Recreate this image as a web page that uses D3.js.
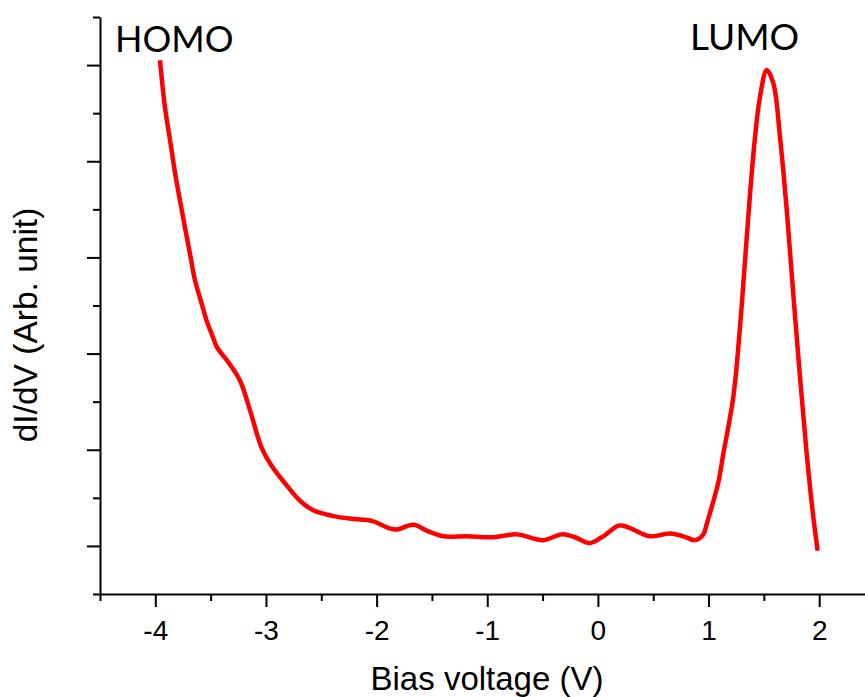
<!DOCTYPE html>
<html>
<head>
<meta charset="utf-8">
<script src="https://cdn.jsdelivr.net/npm/d3@7"></script>
<style>
  body { margin: 0; background: #fff; }
  svg { display: block; }
</style>
</head>
<body>
<svg id="chart"></svg>
<script>
// bias (V) and dI/dV (arb. unit)
const bias = [-3.958, -3.913, -3.867, -3.822, -3.777, -3.732, -3.687, -3.641, -3.581, -3.536,
  -3.479, -3.445, -3.340, -3.235, -3.144, -3.039, -2.948, -2.813, -2.692, -2.572,
  -2.391, -2.211, -2.044, -1.879, -1.818, -1.668, -1.547, -1.397, -1.186, -0.945,
  -0.734, -0.493, -0.327, -0.207, -0.071, 0.035, 0.185, 0.230, 0.320, 0.471,
  0.652, 0.772, 0.878, 0.953, 0.984, 1.088, 1.134, 1.224, 1.284, 1.330,
  1.375, 1.420, 1.465, 1.526, 1.586, 1.646, 1.707, 1.766, 1.827, 1.887,
  1.947, 1.986];
const didv = [5.05, 4.56, 4.22, 3.88, 3.59, 3.31, 3.04, 2.76, 2.52, 2.34,
  2.17, 2.07, 1.91, 1.72, 1.41, 1.02, 0.83, 0.63, 0.47, 0.37,
  0.31, 0.28, 0.26, 0.18, 0.17, 0.22, 0.16, 0.10, 0.10, 0.09,
  0.12, 0.06, 0.12, 0.09, 0.03, 0.09, 0.21, 0.21, 0.17, 0.10,
  0.13, 0.10, 0.06, 0.12, 0.23, 0.66, 0.96, 1.55, 2.27, 2.97,
  3.66, 4.25, 4.67, 4.95, 4.81, 4.25, 3.49, 2.62, 1.75, 0.96,
  0.30, -0.05];

const xMajor = [-4, -3, -2, -1, 0, 1, 2];
const xMinor = [-4.5, -3.5, -2.5, -1.5, -0.5, 0.5, 1.5, 2.5];
const yMajor = [0, 1, 2, 3, 4, 5];
const yMinor = [-0.5, 0.5, 1.5, 2.5, 3.5, 4.5, 5.5];

const width = 865, height = 697;

const svg = d3.select("#chart")
  .attr("width", width)
  .attr("height", height)
  .style("font-family", "'Liberation Sans', Arial, sans-serif");

const x = d3.scaleLinear().domain([-4.5, 2.5]).range([100, 874.5]);
const y = d3.scaleLinear().domain([-0.5, 5.5]).range([594, 17]);

// x axis: minor ticks first, then major with labels
svg.append("g")
  .attr("transform", `translate(0,${y(-0.5)})`)
  .call(d3.axisBottom(x).tickValues(xMinor).tickSize(7).tickSizeOuter(0).tickFormat(""));
svg.append("g")
  .attr("class", "xmaj")
  .attr("transform", `translate(0,${y(-0.5)})`)
  .call(d3.axisBottom(x).tickValues(xMajor).tickSize(13).tickSizeOuter(0)
    .tickPadding(13).tickFormat(d3.format("d")))
  .call(g => g.select(".domain").remove());

// y axis, no labels
svg.append("g")
  .attr("transform", `translate(${x(-4.5)},0)`)
  .call(d3.axisLeft(y).tickValues(yMinor).tickSize(7).tickSizeOuter(0).tickFormat(""));
svg.append("g")
  .attr("transform", `translate(${x(-4.5)},0)`)
  .call(d3.axisLeft(y).tickValues(yMajor).tickSize(13).tickSizeOuter(0).tickFormat(""))
  .call(g => g.select(".domain").remove());

svg.selectAll(".domain, .tick line")
  .attr("stroke", "#000")
  .attr("stroke-width", 2);

svg.selectAll(".xmaj text")
  .attr("font-size", 28)
  .attr("font-family", "'Liberation Sans', Arial, sans-serif")
  .attr("fill", "#000")
  .text(d => d < 0 ? "-" + Math.abs(d) : d);

// the curve
const pts = bias.map((b, i) => [b, didv[i]]);
const line = d3.line()
  .x(d => x(d[0]))
  .y(d => y(d[1]))
  .curve(d3.curveCatmullRom.alpha(0.5));

svg.append("path")
  .datum(pts)
  .attr("fill", "none")
  .attr("stroke", "#ff0000")
  .attr("stroke-width", 4.5)
  .attr("stroke-linejoin", "round")
  .attr("d", line);

// titles
svg.append("text")
  .attr("x", 487)
  .attr("y", 690)
  .attr("text-anchor", "middle")
  .attr("font-size", 33)
  .text("Bias voltage (V)");

svg.append("text")
  .attr("transform", "translate(37,325) rotate(-90)")
  .attr("text-anchor", "middle")
  .attr("font-size", 33.5)
  .text("dI/dV (Arb. unit)");

// peak labels
svg.append("text")
  .attr("x", 115)
  .attr("y", 52)
  .attr("font-family", "Lato, 'Open Sans', sans-serif")
  .attr("font-size", 36)
  .text("HOMO");

svg.append("text")
  .attr("x", 690)
  .attr("y", 50)
  .attr("font-family", "Lato, 'Open Sans', sans-serif")
  .attr("font-size", 37)
  .text("LUMO");
</script>
</body>
</html>
